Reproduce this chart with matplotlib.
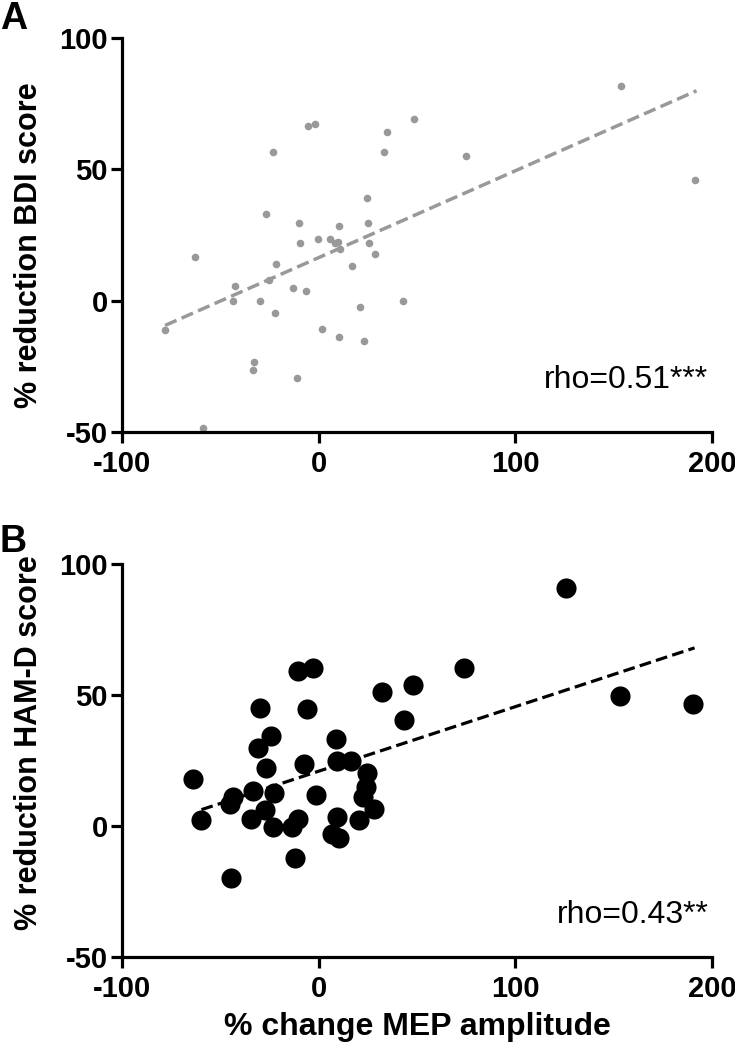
import matplotlib
matplotlib.use("Agg")
import matplotlib.pyplot as plt

plt.rcParams['font.family'] = ['Liberation Sans', 'DejaVu Sans']
plt.rcParams['lines.scale_dashes'] = False
plt.rcParams['axes.unicode_minus'] = False

# Panel A: % change MEP amplitude vs % reduction BDI score
bdi_x = [-77.9, -63.0, -58.6, -42.7, -43.7, -29.7, -26.6, -25.4, -23.4, -21.5,
         -21.9, -32.7, -33.2, -11.2, -13.0, -6.4, -9.8, -9.5, -5.3, -1.8,
         -0.4, 1.9, 5.7, 8.5, 9.8, 10.8, 10.2, 10.2, 17.0, 21.2,
         23.3, 24.4, 25.3, 25.6, 28.9, 33.1, 35.0, 43.1, 48.7, 74.9,
         153.7, 191.2]
bdi_y = [-11.3, 16.5, -48.6, 5.7, -0.2, 0.0, 33.0, 8.0, 56.5, 14.0,
         -4.8, -23.5, -26.5, -29.4, 4.6, 3.8, 29.4, 21.9, 66.4, 67.3,
         23.4, -11.0, 23.4, 22.0, 22.5, 19.8, 28.3, -14.0, 13.2, -2.3,
         -15.6, 39.0, 29.4, 21.9, 17.9, 56.5, 64.4, -0.1, 69.4, 55.1,
         81.9, 45.8]
bdi_fit_x = [-78, 192]
bdi_fit_y = [-9.5, 80.0]

# Panel B: % change MEP amplitude vs % reduction HAM-D score
ham_x = [-63.9, -59.6, -44.4, -43.7, -44.9, -29.6, -30.8, -24.2, -26.6, -33.4,
         -34.2, -27.4, -22.4, -22.9, -13.5, -10.7, -12.2, -10.7, -2.8, -6.1,
         -7.3, -1.2, 9.0, 9.3, 16.5, 9.3, 6.8, 10.5, 20.3, 24.6,
         24.2, 22.6, 28.0, 32.2, 43.2, 48.0, 73.7, 125.9, 152.9, 190.3]
ham_y = [17.9, 2.5, -19.7, 11.2, 8.3, 44.9, 30.0, 34.3, 22.0, 13.5,
         2.9, 6.1, 12.8, -0.3, -0.3, 2.9, -12.3, 59.1, 60.5, 44.8,
         23.9, 11.8, 33.1, 24.9, 24.9, 3.5, -2.8, -4.5, 2.5, 20.1,
         15.0, 11.2, 6.4, 51.2, 40.4, 53.8, 60.5, 91.0, 49.7, 46.5]
ham_fit_x = [-59.5, 191]
ham_fit_y = [6.3, 68.0]

x_ticks = [-100, 0, 100, 200]
y_ticks = [-50, 0, 50, 100]

fig = plt.figure(figsize=(7.35, 10.5), dpi=100)
ax_a = fig.add_axes([0.1656, 0.5889, 0.8035, 0.3746])
ax_b = fig.add_axes([0.1656, 0.0883, 0.8035, 0.3746])


def style_axes(ax):
    ax.set_xlim(-100, 200)
    ax.set_ylim(-50, 100)
    ax.set_xticks(x_ticks)
    ax.set_yticks(y_ticks)
    for side in ['top', 'right']:
        ax.spines[side].set_visible(False)
    for side in ['left', 'bottom']:
        ax.spines[side].set_linewidth(2.3)
    ax.tick_params(width=2.3, length=8, labelsize=21)
    ax.tick_params(axis='y', pad=2)
    ax.tick_params(axis='x', pad=5)
    for lab in ax.get_xticklabels() + ax.get_yticklabels():
        lab.set_fontweight('bold')


# panel A
ax_a.scatter(bdi_x, bdi_y, s=30, color='#999999', linewidths=0, clip_on=False, zorder=2)
ax_a.plot(bdi_fit_x, bdi_fit_y, color='#999999', lw=2.5, dashes=(9, 4), zorder=3)
style_axes(ax_a)
ax_a.set_ylabel('% reduction BDI score', fontsize=22, fontweight='bold')
ax_a.yaxis.set_label_coords(-0.132, 0.475)
ax_a.text(198, -33.3, 'rho=0.51***', fontsize=23, ha='right', va='baseline')

# panel B
ax_b.scatter(ham_x, ham_y, s=210, color='black', linewidths=0, clip_on=False, zorder=2)
ax_b.plot(ham_fit_x, ham_fit_y, color='black', lw=2.3, dashes=(8.5, 3.8), zorder=3)
style_axes(ax_b)
ax_b.set_ylabel('% reduction HAM-D score', fontsize=22, fontweight='bold')
ax_b.yaxis.set_label_coords(-0.132, 0.545)
ax_b.set_xlabel('% change MEP amplitude', fontsize=23, fontweight='bold', labelpad=6)
ax_b.text(198, -37.1, 'rho=0.43**', fontsize=23, ha='right', va='baseline')

fig.text(0.0, 0.999, 'A', fontsize=27, fontweight='bold', ha='left', va='top')
fig.text(0.0, 0.501, 'B', fontsize=27, fontweight='bold', ha='left', va='top')

fig.savefig('out.png', dpi=100)
